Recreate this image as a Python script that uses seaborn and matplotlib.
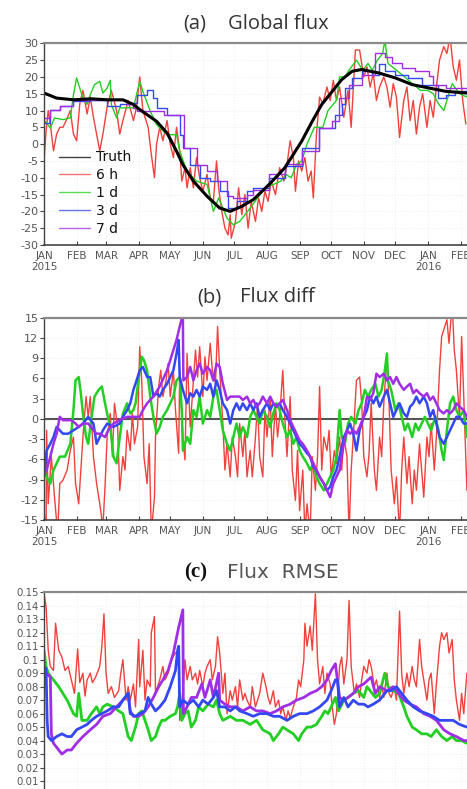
import numpy as np
import pandas as pd
import matplotlib
matplotlib.use("Agg")
import matplotlib.pyplot as plt
import matplotlib.dates as mdates
from matplotlib.ticker import FuncFormatter
from matplotlib.lines import Line2D
import seaborn as sns

# ---------------- data (day offset from 2015-01-01, value) ----------------
BASE = pd.Timestamp("2015-01-01")
SERIES = ["Truth", "6 h", "1 d", "3 d", "7 d"]
COLORS = {"Truth": "#000000", "6 h": "#f2403c", "1 d": "#22cf22", "3 d": "#3348f2", "7 d": "#a12ee6"}

# Panel (a) Global flux
A_TRUTH_DAY = [0, 12, 28, 45, 60, 75, 85, 91, 107, 117, 126, 132, 142, 155, 167, 177, 188, 199, 214, 229,
               245, 255, 264, 274, 283, 293, 302, 318, 334, 350, 366, 382, 402]
A_TRUTH_VAL = [15.2, 13.7, 13.2, 13.5, 13.2, 13.2, 11.8, 10.3, 6.8, 3.3, -2.1, -6.1, -11.0, -15.5, -19.0, -20.0,
               -18.5, -16.5, -12.0, -7.0, 0.9, 6.8, 11.8, 15.7, 19.2, 21.7, 22.2, 21.2, 19.7, 17.7, 16.7, 15.7, 15.2]

A_6H_DAY = [0, 2, 4, 6, 9, 12, 15, 18, 21, 25, 28, 31, 34, 37, 41, 44, 47, 50, 53, 56, 60, 64, 69, 72, 75, 80,
            85, 88, 91, 94, 99, 102, 105, 107, 110, 113, 117, 120, 123, 126, 129, 131, 134, 136, 139, 142, 145,
            148, 151, 155, 158, 161, 164, 166, 169, 172, 175, 177, 178, 182, 185, 188, 191, 194, 197, 201, 204,
            207, 210, 213, 216, 220, 224, 228, 231, 234, 237, 239, 242, 245, 248, 251, 254, 256, 259, 262, 265,
            269, 272, 275, 278, 281, 285, 289, 292, 296, 300, 304, 307, 310, 313, 316, 319, 323, 326, 329, 332,
            335, 338, 342, 345, 348, 351, 354, 357, 360, 364, 367, 370, 373, 376, 380, 383, 386, 389, 392, 395,
            398, 401]
A_6H_VAL = [-5, 4, 10, 6, -2, 3, 5, 5, 7, 10, 3, 1, 12, 16, 9, 14, 8, 3, -2, 3, 11, 16, 10, 3, 7, 13,
            7, 11, 20, 10, 5, -3, -10, 0, 5, 1, 7, 0, -4, 5, -2, -11, -7, -13, -7, -13, -4,
            -10, -14, -9, -16, -17, -5, -13, -20, -25, -27, -21, -28, -23, -13, -21, -15, -25, -17, -23, -16,
            -20, -14, -17, -11, -15, -7, -11, -6, 1, -4, -14, -5, -8, -4, -11, -8, -16, 3, 14, 12,
            17, 13, 19, 13, 17, 8, 16, 5, 28, 28, 20, 23, 17, 21, 13, 17, 20, 17, 11, 18,
            14, 2, 13, 17, 7, 13, 3, 11, 15, 5, 13, 8, 17, 25, 29, 27, 32, 23, 19, 25,
            13, 6]

A_1D_DAY = [0, 1, 6, 10, 18, 25, 28, 31, 34, 37, 41, 44, 48, 53, 56, 60, 63, 64, 69, 72, 79, 85, 91, 94, 101,
            107, 117, 126, 129, 136, 145, 155, 161, 166, 174, 180, 186, 196, 203, 210, 218, 225, 230, 235, 240,
            245, 250, 257, 265, 270, 278, 281, 286, 290, 297, 303, 308, 312, 317, 322, 324, 327, 335, 343, 350,
            358, 365, 370, 375, 380, 385, 388, 395, 402]
A_1D_VAL = [7, 6.8, 4.8, 7.8, 7.3, 7.8, 14.7, 19.7, 16.7, 13.7, 11.8, 14.7, 17.7, 18.7, 15.2, 16.7, 19, 11.8,
            7.8, 10.8, 10.8, 10.8, 18.7, 15.7, 9.8, 5.8, 2.8, 2.8, -2.1, -8.1, -11, -12, -20, -16, -22, -24, -23,
            -19, -16, -13, -12, -11, -9, -10, -6, -5, 0, 5, 5, 10, 13, 20, 20, 22, 25, 22, 24, 22, 25, 27, 31,
            24, 22, 20, 18, 16, 16, 15, 12, 10, 15, 18, 15, 14]

A_3D_DAY = [0, 6, 15, 28, 44, 60, 72, 82, 88, 98, 104, 107, 117, 126, 129, 132, 139, 148, 158, 167, 175, 183,
            193, 199, 214, 229, 245, 261, 277, 283, 286, 293, 302, 312, 318, 324, 334, 346, 359, 369, 375, 382,
            391, 402]
A_3D_VAL = [6.3, 10.3, 11.3, 12.7, 13.2, 11.3, 11.8, 12.2, 14.7, 16.2, 13.7, 10.8, 8.8, 8.8, 2.8, -1.1, -6.1,
            -10, -11, -14, -19, -17, -14, -13, -10, -6.6, -1.1, 4.8, 8.8, 11.8, 16.7, 19.7, 21.7, 20.7, 23.7,
            21.7, 20.7, 19.7, 17.7, 17.7, 13.7, 14.7, 15.7, 14.7]

A_7D_DAY = [0, 6, 15, 28, 60, 79, 85, 88, 114, 133, 145, 155, 164, 174, 180, 193, 199, 214, 229, 245, 261,
            274, 280, 290, 302, 315, 324, 331, 340, 353, 366, 370, 382, 402]
A_7D_VAL = [7.8, 10.3, 11.3, 13.2, 13.2, 11.8, 10.8, 9.8, 8.8, -1.1, -6.1, -8.1, -11, -15.5, -16, -15, -13.5,
            -9, -6, -2, 4.8, 6.8, 13.7, 17.7, 20.7, 27, 26, 24, 22.7, 21.7, 20.2, 17.7, 16.7, 15.2]

# Panel (b) Flux diff
B_6H_DAY = [0, 2, 2.5, 4, 7, 10, 13, 15, 18, 22, 25, 28, 30, 33, 35, 37, 40, 42, 44, 47, 50, 53, 56, 58, 60,
            63, 65, 67, 70, 72, 75, 77, 79, 82, 84, 86, 89, 91, 93, 95, 98, 100, 102, 105, 106, 109, 111, 113,
            116, 118, 120, 123, 125, 128, 129, 132, 134, 136, 139, 141, 144, 146, 148, 151, 153, 155, 158, 160,
            163, 165, 167, 170, 172, 174, 177, 179, 182, 184, 186, 189, 191, 193, 196, 198, 201, 203, 205, 208,
            210, 212, 215, 217, 220, 222, 224, 227, 229, 231, 234, 236, 239, 241, 243, 246, 248, 250, 253, 255,
            258, 260, 262, 264, 266, 269, 271, 273, 276, 278, 281, 283, 285, 288, 290, 292, 295, 297, 300, 302,
            304, 307, 309, 311, 314, 316, 319, 321, 323, 326, 328, 330, 333, 335, 338, 340, 342, 345, 347, 350,
            352, 354, 357, 359, 361, 364, 366, 368, 371, 373, 376, 378, 380, 383, 385, 388, 390, 392, 395, 397,
            399, 402]
B_6H_VAL = [-13.6, -17, -1.7, -12.6, -5.6, -11.6, -17, -9.6, -9.1, -7.6, -4.7, -2.7, -9.6, -12.6, -7.6, -2.7,
            3.3, 0.3, 3.3, -5.6, -9.6, -12.6, -16, -10.1, -2.7, 0.8, -5.6, 2.3, -1.2, -10.6, -5.6, -7.6, -1.7,
            -4.7, 0.8, -3.7, -1.2, 10.7, 5.2, -5.6, -9.6, -3.7, -17, -11.6, -2.7, 4.8, 7.2, 3.3, 5.7, 8.2, 3.3,
            7.2, 1.3, -5.1, 7.2, -2.7, -6.1, 9.7, -1.2, 3.3, 10.2, 6.2, 10.7, 3.3, 9.2, 5.7, 11.2, 7.2, 5.2,
            13.7, 7.2, -0.7, -7.6, -3.7, -8.6, -2.7, -5.6, -8.6, -0.7, -5.6, -1.7, -8.6, -4.7, -8.6, -2.7, 2.3,
            -5.6, -8.6, 1.3, -2.7, 3.3, -5.6, 2.3, -2.7, 0.3, 7.2, 0, -5.6, 3.3, -7.6, -12.1, -4.7, -13.6, -7.6,
            -17, -12.6, -17, -5.6, -10.6, -5.6, 4.8, -7.6, -2.7, -4.7, -1.7, -8.6, -4.7, -6.6, -2.7, -7.6, -2.7,
            -5.6, -17, -7.6, 0, 5.7, 6.2, 2.3, -5.6, -8.6, -5.1, 2.3, -7.6, -10.6, -2.7, -5.6, 2.3, 9.2, 2.3,
            -7.6, -12.6, -8.6, -17, -7.6, -2.7, -9.6, -5.6, -12.6, -7.6, -10.6, -3.7, -7.6, -11.6, -2.7, -5.6,
            -0.7, -7.6, -2.7, 7.2, 12.2, 13.2, 14.7, 11.2, 17, 10.2, 7.2, 0, 12.2, 3.3, -10.6]

B_1D_DAY = [0, 2.5, 6, 9, 12, 15, 20, 25, 28, 30, 33, 35, 37, 40, 42, 45, 48, 52, 55, 58, 60, 63, 66, 69, 72,
            75, 79, 82, 85, 87, 91, 93, 95, 98, 101, 104, 107, 110, 113, 117, 120, 123, 126, 129, 131, 132, 136,
            139, 142, 145, 148, 151, 155, 158, 161, 164, 167, 170, 174, 177, 180, 183, 186, 189, 193, 196, 199,
            202, 205, 208, 212, 215, 218, 221, 224, 227, 231, 234, 237, 240, 243, 246, 250, 253, 256, 259, 262,
            266, 269, 272, 275, 278, 281, 283, 286, 289, 292, 296, 299, 302, 305, 308, 311, 315, 318, 321, 324,
            326, 327, 330, 334, 337, 340, 343, 346, 350, 353, 356, 359, 362, 365, 368, 372, 375, 378, 380, 383,
            386, 389, 392, 395, 399, 402]
B_1D_VAL = [-7.6, -8.6, -9.6, -7.6, -6.6, -5.6, -5.6, -3.7, 1.3, 5.7, 6.2, 3.8, 0.8, -2.7, -3.7, 0, 3.3, 4.3,
            4.8, 2.3, 0.8, -1.2, -5.6, -6.6, -2.7, 0.8, 2.3, 0.8, 1.3, 2.3, 7.2, 9.2, 8.7, 7.2, 3.3, 0.3, -2.2,
            -1.2, 0.3, 1.3, 2.3, 3.3, 5.7, 6.2, 1.3, -4.7, -2.7, -3.7, 1.3, 0.3, 3.3, -0.7, 1.3, 0.3, 3.3, 4.3,
            1.3, -1.7, -3.7, -4.7, -2.7, -0.7, -2.7, -1.2, -2.7, 0.3, 1.3, 0.3, -0.7, 1.3, 0.3, -1.2, 0.8, 2.3,
            1.3, -0.7, -2.7, -1.7, -3.7, -2.7, -4.7, -5.6, -6.6, -7.6, -6.6, -8.6, -9.6, -10.6, -9.6, -8.6,
            -7.6, -5.6, 1.3, -2.7, -3.7, -0.7, 0.3, -0.7, 1.3, 2.3, 4.3, 3.3, 4.3, 5.2, 3.3, 4.3, 7.2, 9.7, 5.7,
            4.3, 1.3, 2.3, 0.3, -1.7, -0.7, -2.7, -0.7, -1.7, -0.7, 0.3, -0.7, -1.7, 0.3, -1.7, -4.7, -6.1,
            -1.7, 2.3, 3.3, 1.3, 0.3, 1.3, -2.7]

B_3D_DAY = [0, 2.5, 6, 9, 12, 15, 18, 23, 28, 33, 37, 42, 47, 50, 53, 56, 60, 66, 72, 75, 79, 82, 85, 88, 91,
            94, 98, 101, 104, 107, 110, 113, 117, 120, 123, 126, 128, 129, 132, 136, 139, 142, 145, 148, 151,
            155, 158, 161, 164, 167, 170, 174, 177, 180, 183, 186, 189, 193, 196, 199, 202, 205, 208, 212, 215,
            218, 221, 224, 227, 231, 234, 237, 240, 243, 246, 250, 253, 256, 259, 262, 266, 269, 272, 275, 278,
            281, 285, 288, 291, 294, 297, 300, 304, 307, 310, 313, 316, 319, 323, 326, 329, 332, 335, 338, 342,
            345, 348, 351, 354, 357, 361, 364, 367, 370, 373, 376, 380, 383, 386, 389, 392, 395, 399, 402]
B_3D_VAL = [-8.6, -4.7, -3.7, -2.7, -1.2, -1.7, -2.2, -2.2, -1.7, -1.2, -0.7, 0.3, -0.7, -3.7, -2.7, -1.7,
            -0.7, -1.2, -0.7, 0.3, 1.3, 2.3, 4.3, 5.7, 7.2, 7.7, 6.2, 6.2, 3.3, 3.8, 3.3, 4.3, 5.2, 6.2, 7.2,
            9.7, 11.7, 6.2, 4.3, 2.3, 3.8, 3.3, 4.3, 3.3, 4.8, 4.3, 5.2, 3.3, 5.7, 4.3, 2.3, 1.3, -0.7, 1.3,
            2.3, 1.3, 2.3, 1.3, 2.3, 1.3, 2.3, 0.3, 1.3, 2.3, 1.3, 2.3, 1.8, 2.3, 1.3, 0.3, -0.7, -1.7, -2.7,
            -3.7, -4.2, -5.1, -5.6, -7.1, -7.6, -8.6, -9.6, -10.6, -10.1, -8.6, -7.6, -5.6, -2.7, -1.7, -0.7,
            -2.2, -4.7, -1.7, 0.3, 1.3, 3.3, 2.3, 3.3, 1.8, 3.3, 4.3, 2.3, 0.3, 1.3, 2.3, 0.8, 0.3, 1.8, 2.3,
            3.3, 2.3, 3.3, 2.3, 0.3, 1.3, -0.7, -2.7, -3.7, -2.7, -1.7, -0.7, 0.3, 0.3, -0.7, -0.7]

B_7D_DAY = [0, 2.5, 6, 9, 12, 15, 18, 22, 26, 30, 33, 37, 42, 47, 50, 53, 58, 61, 66, 72, 79, 85, 91, 94, 98,
            104, 110, 117, 121, 126, 129, 132, 132.5, 136, 139, 142, 145, 148, 151, 155, 158, 161, 164, 167,
            170, 174, 177, 180, 183, 186, 189, 193, 196, 199, 202, 205, 208, 212, 215, 218, 221, 224, 227, 231,
            234, 237, 240, 243, 246, 250, 253, 256, 259, 262, 266, 269, 272, 275, 278, 281, 285, 288, 291, 294,
            297, 300, 304, 307, 310, 313, 316, 319, 323, 326, 329, 332, 335, 338, 342, 345, 348, 351, 354, 357,
            361, 364, 367, 370, 373, 376, 380, 383, 386, 389, 392, 395, 399, 402]
B_7D_VAL = [-8.1, -7.6, -5.6, -3.7, -2.2, 0.3, -0.2, -0.2, -0.2, -0.7, -1.2, -0.7, -0.7, -1.7, -2.2, -2.2,
            -2.7, -1.7, -0.7, -0.2, 0.3, 0.3, 0.3, 1.3, 2.3, 3.3, 4.8, 7.2, 9.2, 11.7, 13.7, 15.5, 5.7, 6.2,
            7.7, 5.7, 7.2, 8.2, 6.7, 7.7, 7.2, 5.7, 8.2, 7.7, 5.2, 2.8, 3.3, 3.3, 3.3, 3.3, 2.8, 3.3, 2.3, 2.8,
            1.8, 2.3, 3.3, 2.3, 3.3, 2.3, 1.8, 2.3, 2.8, 1.3, -0.2, -1.2, -2.2, -3.2, -3.7, -4.7, -5.6, -6.6,
            -7.6, -8.6, -9.6, -10.6, -11.6, -9.6, -8.6, -7.6, -3.7, -1.7, -2.2, -1.7, -2.2, -1.2, 0.3, 3.3,
            2.8, 3.8, 6.7, 6.2, 6.7, 5.7, 6.2, 5.2, 6.2, 5.2, 4.3, 4.8, 5.2, 3.8, 4.3, 3.8, 3.3, 3.8, 2.8, 3.3,
            2.3, 1.3, 0.8, 1.3, 0.8, 1.3, 2.3, 1.8, 1.3, 0.3]

# Panel (c) Flux RMSE
C_6H_DAY = [0, 2, 4, 6, 9, 11, 14, 17, 20, 23, 26, 29, 32, 34, 37, 39, 41, 44, 46, 49, 53, 55, 57, 59, 61, 64,
            67, 71, 73, 75, 78, 80, 82, 85, 87, 90, 91, 94, 96, 98, 101, 102, 105, 106, 110, 113, 115, 118,
            121, 125, 128, 129, 132, 134, 136, 139, 141, 144, 146, 148, 151, 153, 155, 158, 160, 163, 165, 167,
            170, 172, 174, 177, 179, 182, 184, 186, 189, 191, 193, 196, 198, 201, 203, 205, 208, 211, 213, 215,
            218, 220, 223, 225, 227, 230, 232, 234, 237, 240, 242, 244, 247, 248, 250, 253, 255, 258, 260, 262,
            265, 267, 269, 272, 274, 276, 278, 281, 283, 285, 288, 290, 292, 295, 297, 300, 302, 304, 307, 309,
            311, 314, 316, 319, 321, 323, 326, 328, 330, 333, 335, 338, 340, 342, 345, 347, 350, 352, 354, 357,
            359, 361, 364, 366, 368, 371, 373, 376, 378, 380, 383, 385, 388, 390, 392, 395, 397, 399, 402]
C_6H_VAL = [0.149, 0.139, 0.107, 0.095, 0.092, 0.127, 0.107, 0.102, 0.092, 0.095, 0.085, 0.075, 0.108, 0.083,
            0.090, 0.073, 0.085, 0.090, 0.083, 0.087, 0.095, 0.110, 0.134, 0.090, 0.075, 0.080, 0.072, 0.077,
            0.090, 0.100, 0.070, 0.080, 0.070, 0.082, 0.065, 0.115, 0.080, 0.107, 0.070, 0.085, 0.080, 0.120,
            0.132, 0.075, 0.085, 0.095, 0.085, 0.090, 0.100, 0.105, 0.107, 0.055, 0.075, 0.100, 0.085, 0.095,
            0.085, 0.090, 0.082, 0.092, 0.080, 0.090, 0.095, 0.100, 0.085, 0.095, 0.117, 0.105, 0.075, 0.090,
            0.060, 0.077, 0.070, 0.080, 0.065, 0.085, 0.070, 0.075, 0.070, 0.065, 0.080, 0.065, 0.070, 0.075,
            0.090, 0.080, 0.072, 0.067, 0.077, 0.065, 0.070, 0.060, 0.065, 0.055, 0.062, 0.057, 0.065, 0.072,
            0.085, 0.080, 0.100, 0.127, 0.110, 0.125, 0.107, 0.149, 0.100, 0.082, 0.095, 0.075, 0.090, 0.082,
            0.065, 0.052, 0.060, 0.095, 0.102, 0.082, 0.100, 0.144, 0.095, 0.075, 0.082, 0.072, 0.085, 0.095,
            0.090, 0.100, 0.095, 0.080, 0.085, 0.072, 0.082, 0.072, 0.090, 0.075, 0.072, 0.080, 0.070, 0.136,
            0.090, 0.075, 0.090, 0.080, 0.095, 0.085, 0.080, 0.115, 0.095, 0.085, 0.070, 0.085, 0.090, 0.060,
            0.082, 0.110, 0.120, 0.115, 0.120, 0.105, 0.115, 0.085, 0.070, 0.055, 0.075, 0.060, 0.090]

C_1D_DAY = [0, 2, 4, 9, 14, 18, 22, 25, 28, 31, 33, 36, 41, 45, 50, 53, 56, 60, 66, 71, 75, 80, 83, 87, 90, 93,
            96, 99, 102, 106, 109, 112, 115, 120, 125, 127, 129, 131, 134, 137, 140, 144, 147, 151, 156, 161,
            164, 167, 170, 177, 183, 189, 196, 202, 208, 215, 218, 223, 227, 231, 237, 242, 245, 250, 254, 259,
            264, 267, 270, 273, 277, 280, 285, 289, 294, 299, 304, 307, 310, 315, 319, 324, 327, 332, 337, 342,
            345, 350, 354, 359, 364, 368, 373, 378, 383, 388, 392, 397, 402]
C_1D_VAL = [0.107, 0.095, 0.090, 0.085, 0.080, 0.075, 0.070, 0.065, 0.060, 0.058, 0.075, 0.055, 0.055, 0.060,
            0.065, 0.060, 0.065, 0.067, 0.065, 0.062, 0.060, 0.043, 0.040, 0.050, 0.060, 0.062, 0.055, 0.048,
            0.040, 0.043, 0.050, 0.055, 0.055, 0.058, 0.060, 0.065, 0.075, 0.055, 0.060, 0.062, 0.050, 0.055,
            0.065, 0.062, 0.067, 0.065, 0.070, 0.060, 0.055, 0.058, 0.055, 0.055, 0.052, 0.055, 0.048, 0.045,
            0.040, 0.045, 0.050, 0.048, 0.045, 0.040, 0.045, 0.050, 0.050, 0.052, 0.058, 0.062, 0.060, 0.065,
            0.072, 0.062, 0.070, 0.072, 0.075, 0.077, 0.072, 0.080, 0.077, 0.072, 0.075, 0.090, 0.080, 0.077,
            0.075, 0.065, 0.058, 0.050, 0.048, 0.045, 0.045, 0.043, 0.048, 0.043, 0.040, 0.043, 0.040, 0.040,
            0.038]

C_3D_DAY = [0, 2, 3, 4, 7, 12, 17, 22, 26, 31, 36, 41, 45, 50, 55, 60, 66, 71, 75, 80, 82, 87, 91, 96, 99, 102,
            106, 110, 115, 120, 125, 127, 128, 129, 132, 137, 142, 147, 151, 156, 161, 164, 167, 172, 177, 182,
            186, 193, 199, 205, 212, 218, 224, 231, 237, 243, 250, 256, 262, 269, 273, 277, 279, 281, 285, 289,
            294, 299, 304, 308, 313, 319, 326, 330, 335, 340, 345, 351, 357, 364, 370, 376, 383, 389, 395, 402]
C_3D_VAL = [0.095, 0.093, 0.055, 0.043, 0.040, 0.043, 0.045, 0.043, 0.043, 0.048, 0.050, 0.052, 0.055, 0.058,
            0.060, 0.062, 0.065, 0.065, 0.070, 0.075, 0.060, 0.058, 0.060, 0.062, 0.072, 0.067, 0.062, 0.065,
            0.070, 0.080, 0.092, 0.107, 0.110, 0.065, 0.070, 0.067, 0.070, 0.065, 0.070, 0.067, 0.072, 0.077,
            0.065, 0.065, 0.062, 0.065, 0.062, 0.060, 0.058, 0.060, 0.060, 0.058, 0.058, 0.055, 0.058, 0.060,
            0.060, 0.062, 0.065, 0.070, 0.077, 0.085, 0.085, 0.065, 0.072, 0.065, 0.070, 0.067, 0.067, 0.065,
            0.067, 0.070, 0.077, 0.077, 0.080, 0.075, 0.070, 0.065, 0.062, 0.060, 0.058, 0.055, 0.055, 0.055,
            0.052, 0.050]

C_7D_DAY = [0, 2.5, 6, 7, 9, 14, 17, 22, 26, 31, 37, 44, 50, 56, 63, 69, 75, 80, 82, 85, 90, 94, 99, 104, 109,
            113, 118, 123, 128, 132, 132.5, 136, 140, 145, 150, 153, 158, 161, 166, 167, 172, 177, 183, 189,
            196, 202, 208, 215, 221, 227, 234, 240, 247, 253, 259, 264, 269, 273, 277, 281, 285, 289, 294, 299,
            304, 308, 311, 315, 319, 326, 332, 337, 342, 348, 354, 361, 367, 373, 380, 386, 392, 399, 402]
C_7D_VAL = [0.090, 0.090, 0.087, 0.045, 0.038, 0.033, 0.030, 0.033, 0.033, 0.038, 0.043, 0.048, 0.052, 0.058,
            0.060, 0.065, 0.070, 0.075, 0.062, 0.058, 0.058, 0.060, 0.065, 0.072, 0.080, 0.085, 0.092, 0.105,
            0.124, 0.137, 0.060, 0.065, 0.072, 0.072, 0.082, 0.072, 0.085, 0.072, 0.090, 0.070, 0.067, 0.065,
            0.065, 0.062, 0.065, 0.062, 0.062, 0.060, 0.062, 0.065, 0.067, 0.070, 0.072, 0.075, 0.077, 0.080,
            0.085, 0.092, 0.097, 0.072, 0.070, 0.072, 0.075, 0.080, 0.082, 0.085, 0.087, 0.075, 0.080, 0.077,
            0.080, 0.075, 0.070, 0.067, 0.065, 0.060, 0.058, 0.055, 0.048, 0.045, 0.043, 0.040, 0.040]

A_YTICKS = list(range(-30, 31, 5))
B_YTICKS = list(range(-15, 16, 3))
C_YTICKS = [round(0.01 * i, 2) for i in range(1, 16)]

# ---------------- plotting ----------------
sns.set_theme(style="white")
plt.rcParams["font.family"] = ["DejaVu Sans"]

W, H = 467, 789
fig = plt.figure(figsize=(W / 100, H / 100), dpi=100)
fig.patch.set_facecolor("white")


def axes_px(left, top, right, bottom):
    return fig.add_axes([left / W, 1 - bottom / H, (right - left) / W, (bottom - top) / H])


def frame(days, vals):
    return pd.DataFrame({"date": BASE + pd.to_timedelta(np.asarray(days, dtype=float), unit="D"),
                         "value": vals})


def month_fmt(x, pos):
    d = mdates.num2date(x)
    s = d.strftime("%b").upper()
    if d.month == 1:
        s += "\n" + str(d.year)
    return s


def style(ax, yticks, ylim, ylabsize):
    ax.set_xlim(BASE, BASE + pd.Timedelta(days=402.1))
    ax.set_ylim(*ylim)
    ax.set_yticks(yticks)
    ax.yaxis.set_major_formatter(FuncFormatter(lambda v, p: "%g" % v))
    ax.xaxis.set_major_locator(mdates.MonthLocator())
    ax.xaxis.set_major_formatter(FuncFormatter(month_fmt))
    ax.tick_params(axis="x", direction="in", length=3, width=0.8, color="#444444",
                   labelsize=7.5, labelcolor="#555555", pad=4, bottom=True)
    ax.tick_params(axis="y", direction="out", length=3, width=0.8, color="#444444",
                   labelsize=ylabsize, labelcolor="#555555", pad=1, left=True)
    ax.spines["right"].set_visible(False)
    ax.spines["top"].set_color("#8a8a8a")
    ax.spines["top"].set_linewidth(1.6)
    ax.spines["left"].set_color("#444444")
    ax.spines["left"].set_linewidth(1.0)
    ax.spines["bottom"].set_color("#444444")
    ax.spines["bottom"].set_linewidth(1.2)
    ax.grid(True, color="#f0f0f0", linestyle=":", linewidth=0.8)
    ax.set_xlabel("")
    ax.set_ylabel("")
    ax.set_facecolor("white")


def draw(ax, days, vals, name, lw, steps=False):
    kw = dict(drawstyle="steps-post") if steps else {}
    sns.lineplot(data=frame(days, vals), x="date", y="value", ax=ax, color=COLORS[name],
                 linewidth=lw, estimator=None, sort=False, legend=False, **kw)


# Panel (a)
axA = axes_px(44, 43.3, 467, 245)
draw(axA, A_6H_DAY, A_6H_VAL, "6 h", 1.0)
draw(axA, A_1D_DAY, A_1D_VAL, "1 d", 1.0)
draw(axA, A_3D_DAY, A_3D_VAL, "3 d", 1.0, steps=True)
draw(axA, A_7D_DAY, A_7D_VAL, "7 d", 1.0, steps=True)
draw(axA, A_TRUTH_DAY, A_TRUTH_VAL, "Truth", 2.2)
style(axA, A_YTICKS, (-30, 30), 8.0)
handles = [Line2D([], [], color=COLORS[s], lw=1.0, alpha=0.75) for s in SERIES]
axA.legend(handles, SERIES, loc="lower left", bbox_to_anchor=(0.035, 0.045), frameon=False,
           fontsize=10, handlelength=2.25, handletextpad=0.4, labelspacing=0.28,
           borderpad=0, borderaxespad=0, labelcolor="#111111")

# Panel (b)
axB = axes_px(44, 317.7, 467, 520)
axB.axhline(0, color="#555555", linewidth=1.5, zorder=1)
draw(axB, B_6H_DAY, B_6H_VAL, "6 h", 1.0)
draw(axB, B_1D_DAY, B_1D_VAL, "1 d", 1.8)
draw(axB, B_3D_DAY, B_3D_VAL, "3 d", 1.8)
draw(axB, B_7D_DAY, B_7D_VAL, "7 d", 1.8)
style(axB, B_YTICKS, (-15, 15), 8.0)

# Panel (c) (its date labels fall below the visible picture, as in the original)
axC = axes_px(44, 592.3, 467, 794.5)
draw(axC, C_6H_DAY, C_6H_VAL, "6 h", 1.0)
draw(axC, C_1D_DAY, C_1D_VAL, "1 d", 2.0)
draw(axC, C_7D_DAY, C_7D_VAL, "7 d", 2.0)
draw(axC, C_3D_DAY, C_3D_VAL, "3 d", 2.0)
style(axC, C_YTICKS, (0, 0.15), 7.3)
axC.tick_params(axis="x", labelbottom=False)

# Titles
def ftext(xpx, ypx, s, **kw):
    fig.text(xpx / W, 1 - ypx / H, s, ha="center", va="center", **kw)

ftext(195, 24, "(a)", fontsize=14.5, family=["Open Sans", "DejaVu Sans"], color="#333333")
ftext(278, 24, "Global flux", fontsize=14.5, family=["Open Sans", "DejaVu Sans"], color="#333333")
ftext(209, 297, "(b)", fontsize=14.5, family=["Open Sans", "DejaVu Sans"], color="#333333")
ftext(277, 297, "Flux diff", fontsize=14.5, family=["Open Sans", "DejaVu Sans"], color="#333333")
ftext(196, 572, "(c)", fontsize=15, family=["Liberation Serif", "DejaVu Serif"], weight="bold",
      color="#111111")
ftext(283, 572, "Flux  RMSE", fontsize=14.5, family=["DejaVu Sans"], color="#555555")

fig.savefig("out.png", dpi=100)
